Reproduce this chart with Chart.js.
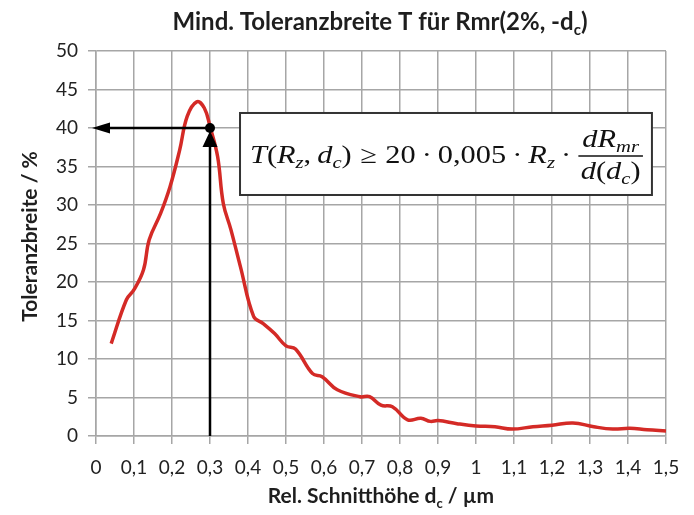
<!DOCTYPE html>
<html>
<head>
<meta charset="utf-8">
<script src="https://cdn.jsdelivr.net/npm/chart.js@4"></script>
<style>
  html, body { margin: 0; padding: 0; background: #fff; }
  #wrap { width: 694px; height: 515px; }
</style>
</head>
<body>
<div id="wrap"><canvas id="tolChart" width="694" height="515"></canvas></div>
<script>
// Rel. Schnitthöhe d_c in µm
const dc = [0.04, 0.08, 0.10, 0.125, 0.14, 0.17, 0.195, 0.22, 0.24, 0.265, 0.285, 0.30, 0.32, 0.335, 0.355, 0.38, 0.415, 0.44, 0.47, 0.50, 0.525, 0.57, 0.595, 0.635, 0.695, 0.72, 0.75, 0.78, 0.82, 0.855, 0.88, 0.90, 0.95, 1.0, 1.05, 1.095, 1.15, 1.2, 1.255, 1.31, 1.36, 1.405, 1.45, 1.5];
// Mindest-Toleranzbreite in %
const tol = [12.0, 17.7, 19.0, 21.6, 25.5, 28.9, 32.4, 37.1, 41.5, 43.4, 42.6, 40.2, 36.3, 30.2, 26.8, 22.0, 15.5, 14.6, 13.3, 11.7, 11.3, 8.1, 7.7, 6.0, 5.1, 5.1, 4.0, 3.8, 2.1, 2.3, 1.9, 2.0, 1.6, 1.3, 1.2, 0.9, 1.2, 1.4, 1.7, 1.2, 0.9, 1.0, 0.8, 0.65];

// Ablesepunkt (Pfeile)
const markDc = 0.3;
const markTol = 40;

// Formelkasten in Datenkoordinaten
const boxX = [0.379, 1.463];
const boxY = [31.3, 41.95];

const textFont = 'Lato, "Open Sans", sans-serif';
const mathFont = '"Liberation Serif", "DejaVu Serif", serif';

function fmtTick(v) {
    return String(Number(v.toFixed(1))).replace('.', ',');
}

// Text aus Stücken, teils tiefgestellt, teils nur Abstand
function richWidth(ctx, parts) {
    let w = 0;
    parts.forEach(p => {
        if (p.gap) { w += p.gap; return; }
        ctx.font = p.font;
        w += ctx.measureText(p.t).width;
    });
    return w;
}
function drawRich(ctx, parts, x, y) {
    parts.forEach(p => {
        if (p.gap) { x += p.gap; return; }
        ctx.font = p.font;
        ctx.fillText(p.t, x, y + (p.dy || 0));
        x += ctx.measureText(p.t).width;
    });
    return x;
}

const labelsPlugin = {
    id: 'labels',
    afterDraw(chart) {
        const ctx = chart.ctx;
        const area = chart.chartArea;
        ctx.save();
        ctx.fillStyle = '#1e1e1e';
        ctx.textBaseline = 'alphabetic';

        // Titel
        const tb = 'bold 24px ' + textFont;
        const ts = 'bold 15px ' + textFont;
        const title = [
            { t: 'Mind. Toleranzbreite T für Rmr(2%, -d', font: tb },
            { t: 'c', font: ts, dy: 5 },
            { t: ')', font: tb }
        ];
        let w = richWidth(ctx, title);
        drawRich(ctx, title, 380 - w / 2, 30);

        // x-Achsentitel
        const xb = 'bold 21px ' + textFont;
        const xs = 'bold 13px ' + textFont;
        const xt = [
            { t: 'Rel. Schnitthöhe d', font: xb },
            { t: 'c', font: xs, dy: 5 },
            { t: ' / µm', font: xb }
        ];
        w = richWidth(ctx, xt);
        drawRich(ctx, xt, (area.left + area.right) / 2 - w / 2, 503);

        // y-Achsentitel
        ctx.translate(30, (area.top + area.bottom) / 2 - 7);
        ctx.rotate(-Math.PI / 2);
        ctx.font = 'bold 21px ' + textFont;
        ctx.textAlign = 'center';
        ctx.textBaseline = 'middle';
        ctx.fillText('Toleranzbreite / %', 0, 0);
        ctx.restore();
    }
};

const markPlugin = {
    id: 'marks',
    afterDatasetsDraw(chart) {
        const ctx = chart.ctx;
        const xs = chart.scales.x, ys = chart.scales.y;
        const px = xs.getPixelForValue(markDc);
        const py = ys.getPixelForValue(markTol);
        const x0 = xs.getPixelForValue(0);
        const y0 = ys.getPixelForValue(0);
        ctx.save();
        ctx.strokeStyle = '#000';
        ctx.fillStyle = '#000';
        ctx.lineWidth = 2.5;
        // senkrechter Pfeil
        ctx.beginPath();
        ctx.moveTo(px, y0);
        ctx.lineTo(px, py + 14);
        ctx.stroke();
        ctx.beginPath();
        ctx.moveTo(px, py + 3);
        ctx.lineTo(px - 7.5, py + 19);
        ctx.lineTo(px + 7.5, py + 19);
        ctx.closePath();
        ctx.fill();
        // waagrechter Pfeil
        ctx.beginPath();
        ctx.moveTo(px, py);
        ctx.lineTo(x0 + 12, py);
        ctx.stroke();
        ctx.beginPath();
        ctx.moveTo(x0 - 4, py);
        ctx.lineTo(x0 + 14, py - 5.5);
        ctx.lineTo(x0 + 14, py + 5.5);
        ctx.closePath();
        ctx.fill();
        // Punkt
        ctx.beginPath();
        ctx.arc(px, py, 5, 0, Math.PI * 2);
        ctx.fill();

        // Formelkasten
        const bl = xs.getPixelForValue(boxX[0]), br = xs.getPixelForValue(boxX[1]);
        const bt = ys.getPixelForValue(boxY[1]), bb = ys.getPixelForValue(boxY[0]);
        ctx.fillStyle = '#fff';
        ctx.fillRect(bl, bt, br - bl, bb - bt);
        ctx.strokeStyle = '#333';
        ctx.lineWidth = 2;
        ctx.strokeRect(bl, bt, br - bl, bb - bt);

        const it = 'italic 25px ' + mathFont;
        const up = '25px ' + mathFont;
        const sb = 'italic 17px ' + mathFont;
        const mid = (bt + bb) / 2;
        const line = [
            { t: 'T', font: it }, { t: '(', font: up }, { t: 'R', font: it },
            { t: 'z', font: sb, dy: 5 }, { t: ',', font: up }, { gap: 5 }, { t: 'd', font: it },
            { t: 'c', font: sb, dy: 5 }, { t: ')', font: up }, { gap: 7 },
            { t: '≥', font: up }, { gap: 7 }, { t: '20', font: up }, { gap: 5 },
            { t: '·', font: up }, { gap: 5 }, { t: '0,005', font: up }, { gap: 5 },
            { t: '·', font: up }, { gap: 5 }, { t: 'R', font: it },
            { t: 'z', font: sb, dy: 5 }, { gap: 5 }, { t: '·', font: up }, { gap: 6 }
        ];
        const num = [{ t: 'dR', font: it }, { t: 'mr', font: sb, dy: 5 }];
        const den = [
            { t: 'd', font: it }, { t: '(', font: up }, { t: 'd', font: it },
            { t: 'c', font: sb, dy: 5 }, { t: ')', font: up }
        ];
        const lw = richWidth(ctx, line);
        const nw = richWidth(ctx, num), dw = richWidth(ctx, den);
        const fw = Math.max(nw, dw) + 4;
        // auf die Breite des Kastens strecken
        const x1 = bl + 10, x2 = br - 9;
        const sx = (x2 - x1) / (lw + fw);
        ctx.translate(x1, 0);
        ctx.scale(sx, 1);
        ctx.fillStyle = '#111';
        drawRich(ctx, line, 0, mid + 9);
        drawRich(ctx, num, lw + (fw - nw) / 2, mid - 7);
        drawRich(ctx, den, lw + (fw - dw) / 2, mid + 25);
        ctx.lineWidth = 1.3;
        ctx.strokeStyle = '#111';
        ctx.beginPath();
        ctx.moveTo(lw, mid + 2);
        ctx.lineTo(lw + fw, mid + 2);
        ctx.stroke();
        ctx.restore();
    }
};

const gridColor = '#a6a6a6';

new Chart(document.getElementById('tolChart'), {
    type: 'scatter',
    data: {
        datasets: [{
            data: dc.map((d, i) => ({ x: d, y: tol[i] })),
            showLine: true,
            borderColor: '#d42a26',
            borderWidth: 3.5,
            tension: 0.4,
            pointRadius: 0,
            fill: false
        }]
    },
    options: {
        responsive: false,
        animation: false,
        layout: { padding: { top: 51, right: 28, bottom: 0, left: 8 } },
        plugins: {
            legend: { display: false },
            tooltip: { enabled: false },
            title: { display: false }
        },
        scales: {
            x: {
                type: 'linear',
                min: 0,
                max: 1.5,
                afterFit: s => { s.height = 79; },
                ticks: {
                    stepSize: 0.1,
                    color: '#222',
                    font: { family: textFont, size: 19 },
                    padding: 12,
                    maxRotation: 0,
                    autoSkip: false,
                    callback: v => fmtTick(v)
                },
                grid: { color: gridColor, lineWidth: 1.5, tickLength: 8, tickColor: gridColor },
                border: { color: gridColor, width: 1.5 }
            },
            y: {
                min: 0,
                max: 50,
                afterFit: s => { s.width = 88; },
                ticks: {
                    stepSize: 5,
                    color: '#222',
                    font: { family: textFont, size: 19 },
                    padding: 10
                },
                grid: { color: gridColor, lineWidth: 1.5, tickLength: 8, tickColor: gridColor },
                border: { color: gridColor, width: 1.5 }
            }
        }
    },
    plugins: [labelsPlugin, markPlugin]
});
</script>
</body>
</html>
